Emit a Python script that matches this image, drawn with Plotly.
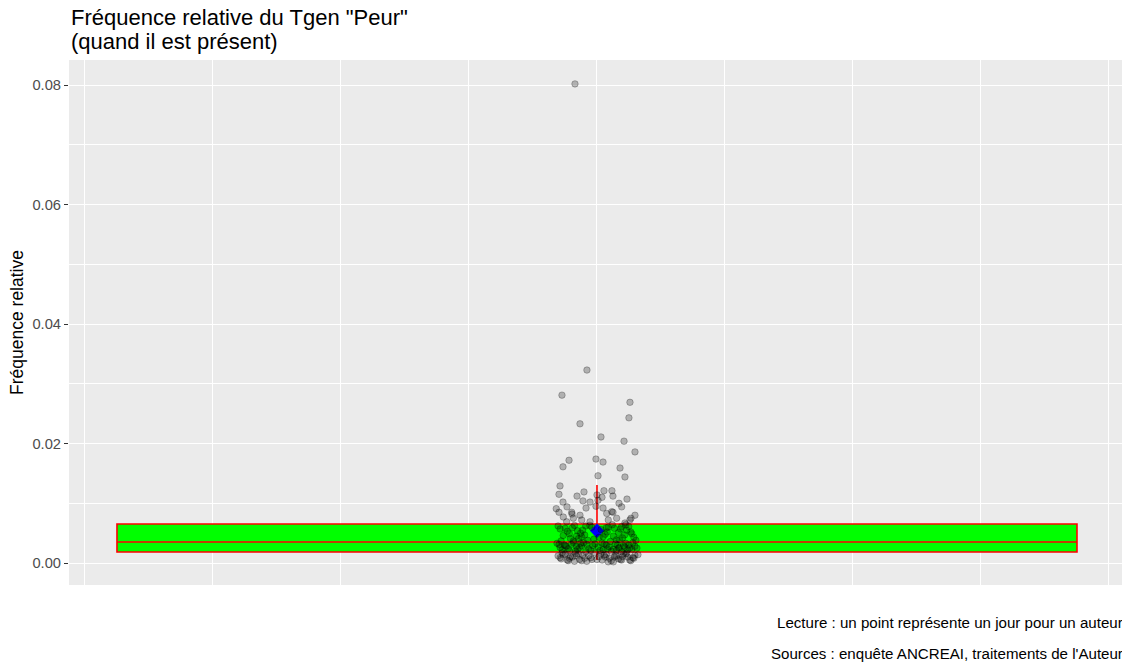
import plotly.graph_objects as go

# ---- Data ----
# box statistics (relative frequency)
box_q1 = [0.00184]
box_median = [0.00351]
box_q3 = [0.00653]
box_low = [0.0005]
box_high = [0.01305]
box_pos = [0.0]
mean_val = [0.0054]

# jittered daily points: horizontal jitter offset and relative frequency
jit_x = [
    -0.0215, -0.0098, -0.0342, 0.0322, 0.0312, -0.0166, 0.0039, 0.0264, 0.0371, -0.0273,
    -0.0010, 0.0059, -0.0332, 0.0225, 0.0010, 0.0273, -0.0361, -0.0371, -0.0195, -0.0127,
    0.0000, 0.0068, 0.0146, 0.0156, -0.0332, -0.0137, -0.0068, 0.0010, 0.0049, 0.0215,
    0.0293, -0.0293, -0.0107, 0.0059, -0.0010, -0.0371, 0.0156, 0.0332, 0.0322, -0.0244,
    -0.0398, -0.0247, -0.0329, -0.0231, -0.0166, -0.0149, 0.0095, 0.0144, 0.0110, 0.0192,
    0.0371, 0.0241, -0.0296, -0.0068, 0.0273,
    # band Q3 - median
    -0.038, -0.031, -0.027, -0.022, -0.018, -0.014, -0.009, -0.005, 0.006, 0.010,
    0.015, 0.019, 0.023, 0.027, 0.031, 0.036, -0.035, -0.029, -0.024, -0.020,
    -0.016, -0.011, -0.003, 0.004, 0.008, 0.013, 0.017, 0.021, 0.025, 0.029,
    0.034, 0.038, -0.033, -0.026, -0.019, -0.012, -0.007, 0.002, 0.011, 0.016,
    0.022, 0.028, 0.033, -0.036, -0.023, -0.015, 0.009, 0.024,
    # band median - Q1
    -0.039, -0.034, -0.030, -0.025, -0.021, -0.017, -0.013, -0.008, -0.004, 0.003,
    0.007, 0.012, 0.016, 0.020, 0.024, 0.028, 0.032, 0.037, -0.036, -0.032,
    -0.027, -0.023, -0.019, -0.015, -0.010, -0.006, 0.001, 0.005, 0.010, 0.014,
    0.018, 0.022, 0.026, 0.030, 0.035, 0.039, -0.037, -0.028, -0.020, -0.011,
    -0.002, 0.009, 0.019, 0.027, 0.034, -0.031, -0.016, 0.006, 0.021, 0.031,
    # band below Q1
    -0.038, -0.035, -0.031, -0.028, -0.024, -0.021, -0.017, -0.014, -0.010, -0.006,
    -0.002, 0.002, 0.005, 0.009, 0.012, 0.016, 0.019, 0.023, 0.026, 0.030,
    0.033, 0.037, -0.036, -0.033, -0.029, -0.026, -0.022, -0.018, -0.012, -0.008,
    0.000, 0.004, 0.008, 0.014, 0.018, 0.021, 0.025, 0.028, 0.032, 0.035,
    0.040, -0.034, -0.027, -0.020, -0.015, -0.005, 0.007, 0.011, 0.017, 0.024,
    0.029, 0.036,
]
jit_y = [
    0.0802, 0.0323, 0.0281, 0.0269, 0.0243, 0.0233, 0.0211, 0.0204, 0.0186, 0.0172,
    0.0174, 0.0169, 0.0161, 0.0159, 0.0146, 0.0144, 0.0129, 0.0115, 0.0112, 0.0119,
    0.0114, 0.0121, 0.0121, 0.0112, 0.0102, 0.0104, 0.0102, 0.0105, 0.0110, 0.0100,
    0.0107, 0.0094, 0.0092, 0.0092, 0.0095, 0.0085, 0.0085, 0.0075, 0.0072, 0.0082,
    0.0091, 0.0085, 0.0077, 0.0075, 0.0080, 0.0072, 0.0083, 0.0086, 0.0072, 0.0075,
    0.0080, 0.0094, 0.0069, 0.0069, 0.0067,
    0.0062, 0.0058, 0.0049, 0.0063, 0.0041, 0.0055, 0.0038, 0.0060, 0.0044, 0.0052,
    0.0064, 0.0039, 0.0057, 0.0047, 0.0061, 0.0043, 0.0037, 0.0053, 0.0059, 0.0045,
    0.0050, 0.0062, 0.0040, 0.0056, 0.0048, 0.0036, 0.0058, 0.0051, 0.0042, 0.0055,
    0.0049, 0.0038, 0.0046, 0.0041, 0.0054, 0.0047, 0.0063, 0.0043, 0.0060, 0.0045,
    0.0039, 0.0064, 0.0052, 0.0057, 0.0037, 0.0044, 0.0059, 0.0061,
    0.0033, 0.0022, 0.0028, 0.0031, 0.0020, 0.0026, 0.0034, 0.0024, 0.0029, 0.0021,
    0.0032, 0.0027, 0.0023, 0.0030, 0.0019, 0.0033, 0.0025, 0.0028, 0.0026, 0.0030,
    0.0020, 0.0034, 0.0023, 0.0029, 0.0031, 0.0021, 0.0027, 0.0033, 0.0024, 0.0020,
    0.0032, 0.0026, 0.0029, 0.0022, 0.0034, 0.0025, 0.0031, 0.0024, 0.0028, 0.0019,
    0.0032, 0.0030, 0.0021, 0.0027, 0.0023, 0.0029, 0.0033, 0.0022, 0.0025, 0.0030,
    0.0012, 0.0007, 0.0015, 0.0004, 0.0010, 0.0016, 0.0006, 0.0013, 0.0003, 0.0009,
    0.0017, 0.0011, 0.0005, 0.0014, 0.0008, 0.0002, 0.0012, 0.0006, 0.0016, 0.0010,
    0.0004, 0.0013, 0.0009, 0.0014, 0.0005, 0.0011, 0.0003, 0.0015, 0.0008, 0.0012,
    0.0006, 0.0016, 0.0010, 0.0004, 0.0013, 0.0007, 0.0011, 0.0015, 0.0005, 0.0009,
    0.0014, 0.0017, 0.0008, 0.0012, 0.0004, 0.0006, 0.0013, 0.0002, 0.0010, 0.0005,
    0.0016, 0.0008,
]

y_ticks = [0.00, 0.02, 0.04, 0.06, 0.08]
y_tick_labels = ["0.00", "0.02", "0.04", "0.06", "0.08"]
x_grid = [-0.5, -0.375, -0.25, -0.125, 0.0, 0.125, 0.25, 0.375, 0.5]

title_line1 = "Fréquence relative du Tgen \"Peur\""
title_line2 = "(quand il est présent)"
y_title = "Fréquence relative"
caption1 = "Lecture : un point représente un jour pour un auteur"
caption2 = "Sources : enquête ANCREAI, traitements de l'Auteur"

FONT = "Liberation Sans, Arial, sans-serif"

fig = go.Figure()

fig.add_trace(go.Box(
    x=box_pos, q1=box_q1, median=box_median, q3=box_q3,
    lowerfence=box_low, upperfence=box_high,
    width=0.9375, whiskerwidth=0,
    fillcolor="#00FF00", line=dict(color="#FF0000", width=1.6),
    boxpoints=False, showlegend=False, hoverinfo="skip",
))

fig.add_trace(go.Scatter(
    x=box_pos, y=mean_val, mode="markers",
    marker=dict(symbol="diamond", size=11, color="#0000FF"),
    showlegend=False, hoverinfo="skip",
))

fig.add_trace(go.Scatter(
    x=jit_x, y=jit_y, mode="markers",
    marker=dict(size=6.5, color="rgba(0,0,0,0.25)",
                line=dict(color="rgba(0,0,0,0.25)", width=1)),
    showlegend=False, hoverinfo="skip",
))

# plot area spans pixels 69..1122 (x) and 60..585 (y)
PW, PH = 1053.0, 525.0

def py(pix):
    return (585.0 - pix) / PH

def px(pix):
    return (pix - 69.0) / PW

anns = [
    dict(text=title_line1, x=px(69), y=py(18), xanchor="left", yanchor="middle",
         font=dict(size=22, family=FONT, color="#000000")),
    dict(text=title_line2, x=px(69), y=py(41), xanchor="left", yanchor="middle",
         font=dict(size=22, family=FONT, color="#000000")),
    dict(text=caption1, x=px(1125), y=py(622), xanchor="right", yanchor="middle",
         font=dict(size=15.1, family=FONT, color="#000000")),
    dict(text=caption2, x=px(1125), y=py(653), xanchor="right", yanchor="middle",
         font=dict(size=15.1, family=FONT, color="#000000")),
]
for a in anns:
    a.update(xref="paper", yref="paper", showarrow=False)

fig.update_layout(
    width=1122, height=664,
    margin=dict(l=69, r=0, t=60, b=79, autoexpand=False),
    paper_bgcolor="white", plot_bgcolor="#EBEBEB",
    font=dict(family=FONT, color="#000000"),
    xaxis=dict(range=[-0.5156, 0.5127], tickvals=x_grid, showticklabels=False,
               ticks="", showgrid=True, gridcolor="white", gridwidth=1.2,
               zeroline=False, showline=False),
    yaxis=dict(range=[-0.00368, 0.0842], tickvals=y_ticks, ticktext=y_tick_labels,
               ticks="outside", ticklen=4, tickcolor="#333333", tickwidth=1,
               tickfont=dict(size=14.7, color="#4D4D4D", family=FONT),
               showgrid=True, gridcolor="white", gridwidth=1.2,
               minor=dict(tickvals=[0.01, 0.03, 0.05, 0.07], showgrid=True,
                          gridcolor="white", gridwidth=0.8, ticks=""),
               zeroline=False, showline=False,
               title=dict(text=y_title, font=dict(size=17.5, family=FONT, color="#000000"),
                          standoff=4)),
    annotations=anns,
)

fig.write_html("out.html", config={"displayModeBar": False},
               post_script="document.body.style.margin='0';")
